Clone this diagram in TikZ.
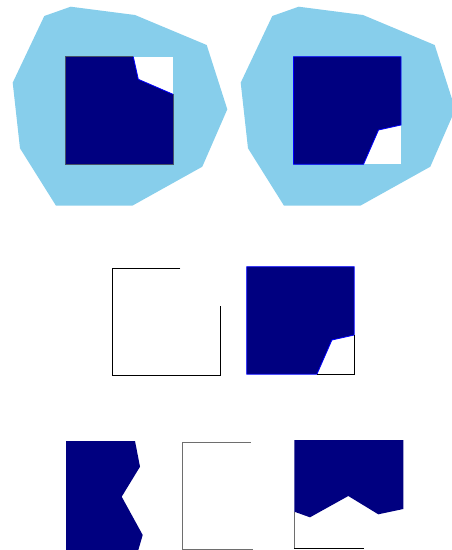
\documentclass[tikz,border=0pt]{standalone}
\usepackage{xcolor}
\definecolor{clipsky}{RGB}{135,206,235}
\definecolor{clipnavy}{RGB}{0,0,128}
\definecolor{clipblue}{RGB}{0,0,255}
\definecolor{clipslate}{RGB}{70,82,105}
\definecolor{clipgray}{RGB}{110,110,110}
\usepackage{tikz}
\usetikzlibrary{positioning}

\begin{document}
\begin{tikzpicture}[x=1pt, y=-1pt,
    clipregion/.style={fill=clipsky},
    solidpart/.style={fill=clipnavy},
    cutedge/.style={draw=clipblue, line width=0.8pt},
    openedge/.style={draw=clipgray, line width=1pt}]
  \useasboundingbox (0,0) rectangle (451,550);

  % Clip regions (top row)
  \fill[clipregion] (70.7,6.7) -- (135,15) -- (206.7,45) -- (227.3,109.3) -- (202.3,166.7)
    -- (132.3,205.7) -- (56,205.7) -- (20,148.3) -- (12.7,82.7) -- (44.3,16) -- cycle;
  \fill[clipregion, xshift=228pt] (70.7,6.7) -- (135,15) -- (206.7,45) -- (227.3,109.3) -- (202.3,166.7)
    -- (132.3,205.7) -- (56,205.7) -- (20,148.3) -- (12.7,82.7) -- (44.3,16) -- cycle;

  % Top left square, notch at top right
  \fill[white] (65.5,56.7) rectangle (173,164.3);
  \fill[solidpart] (65.5,56.7) -- (133.3,56.7) -- (138.3,79.3) -- (173,94.3) -- (173,164.3) -- (65.5,164.3) -- cycle;
  \draw[cutedge] (133.3,56.7) -- (138.3,79.3) -- (173,94.3);
  \draw[clipslate, line width=1pt] (133.3,56.7) -- (65.5,56.7) -- (65.5,164.3) -- (173,164.3) -- (173,94.3);

  % Top right square, notch at bottom right
  \fill[white] (293.5,56.7) rectangle (401,164.3);
  \filldraw[solidpart, cutedge] (293.5,56.7) -- (401,56.7) -- (401,125) -- (378.5,130) -- (363.5,164.3)
    -- (293.5,164.3) -- cycle;

  % Middle row
  \draw[openedge, draw=black] (180.3,268.3) -- (112.5,268.3) -- (112.5,375.8) -- (220,375.8) -- (220,305.8);
  \filldraw[solidpart, cutedge] (246.7,266.7) -- (354.2,266.7) -- (354.2,335) -- (331.9,340) -- (316.9,374.2)
    -- (246.7,374.2) -- cycle;
  \draw[black, line width=0.8pt] (316.9,374.2) -- (354.2,374.2) -- (354.2,335);

  % Bottom row
  \fill[solidpart] (66,441) -- (135,441) -- (140,466.7) -- (121.7,496.7) -- (142.7,535) -- (135.4,560) -- (66,560) -- cycle;
  \draw[openedge] (250.7,442) -- (182.7,442) -- (182.7,549.5) -- (252.7,549.5);
  \fill[solidpart] (294.3,440) -- (403.3,440) -- (403.3,509) -- (378.3,514.3) -- (348.3,496) -- (310,517.3)
    -- (294.3,511.7) -- cycle;
  \draw[openedge] (294.3,511.7) -- (294.3,548.3);
  \draw[black, line width=1pt] (294.3,548.3) -- (364.3,548.3);
\end{tikzpicture}
\end{document}
